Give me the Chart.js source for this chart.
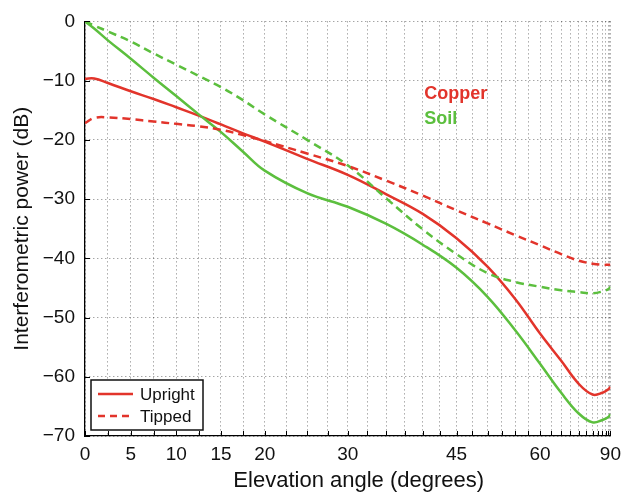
<!DOCTYPE html>
<html><head><meta charset="utf-8">
<script src="https://cdn.jsdelivr.net/npm/chart.js@4/dist/chart.umd.min.js"></script>
<style>html,body{margin:0;padding:0;background:#fff;}#wrap{width:628px;height:494px;}</style>
</head><body><div id="wrap"><canvas id="c" width="628" height="494"></canvas></div>
<script>
// ---- data (elevation angle in degrees, interferometric power in dB) ----
const angles        = [0, 1, 2.5, 5, 7.5, 10, 12.5, 15, 17.5, 20, 25, 30, 35, 40, 45, 50, 55, 60, 65, 70, 75, 80, 85, 90];
const copperUpright = [-9.7, -9.65, -10.4, -11.8, -13.1, -14.5, -15.9, -17.4, -18.9, -20.3, -23.2, -25.9, -29.2, -32.5, -36.6, -41.4, -46.9, -52.7, -57.3, -61.2, -63.0, -62.7, -62.1, -61.7];
const copperTipped  = [-17.2, -16.3, -16.2, -16.5, -16.9, -17.3, -17.7, -18.3, -19.2, -20.2, -22.3, -24.4, -26.9, -29.4, -31.9, -34.1, -36.1, -37.8, -39.3, -40.4, -40.9, -41.1, -41.1, -41.1];
const soilUpright   = [0, -1.2, -3.2, -6.3, -9.5, -12.6, -15.7, -18.7, -22.0, -25.2, -29.0, -31.3, -34.2, -37.7, -41.6, -46.5, -52.2, -57.8, -62.7, -66.2, -67.7, -67.3, -66.8, -66.3];
const soilTipped    = [0, -0.7, -1.7, -3.4, -5.4, -7.3, -9.2, -11.1, -13.3, -15.7, -20.0, -24.3, -29.9, -35.1, -39.3, -42.5, -44.0, -44.8, -45.4, -45.7, -45.9, -45.6, -45.2, -44.8];
const xTickLabels   = [0, 5, 10, 15, 20, 30, 45, 60, 90];
const xGridStep     = 2.5;
const yTicks        = [0, -10, -20, -30, -40, -50, -60, -70];
const materials     = ['Copper', 'Soil'];
const orientations  = ['Upright', 'Tipped'];
const xTitle        = 'Elevation angle (degrees)';
const yTitle        = 'Interferometric power (dB)';

const RED = '#E2342B', GREEN = '#5CBF3E';
const FONT = '"Liberation Sans", Arial, Helvetica, sans-serif';

// Axis spaced as sin(elevation)
class SineScale extends Chart.LinearScale {
  getPixelForValue(value) {
    if (value === null || value === undefined) return NaN;
    const a = Math.sin(this.min * Math.PI / 180), b = Math.sin(this.max * Math.PI / 180);
    return this.getPixelForDecimal((Math.sin(value * Math.PI / 180) - a) / (b - a));
  }
  getValueForPixel(pixel) {
    const a = Math.sin(this.min * Math.PI / 180), b = Math.sin(this.max * Math.PI / 180);
    return Math.asin(a + this.getDecimalForPixel(pixel) * (b - a)) * 180 / Math.PI;
  }
}
SineScale.id = 'sine';
SineScale.defaults = Chart.LinearScale.defaults;
Chart.register(SineScale);

const pts = arr => angles.map((a, i) => ({x: a, y: arr[i]}));
const lineDs = (label, arr, color, dashed) => ({
  label, data: pts(arr), borderColor: color, backgroundColor: color,
  borderWidth: 2.5, borderDash: dashed ? [8, 5] : [], pointRadius: 0,
  tension: 0.4, fill: false
});

const decor = {
  id: 'decor',
  afterDraw(chart) {
    const {ctx, chartArea: a, scales: {x, y}} = chart;
    ctx.save();
    // inward tick marks
    ctx.strokeStyle = '#000'; ctx.lineWidth = 1;
    ctx.beginPath();
    x.ticks.forEach(t => { const px = Math.round(x.getPixelForValue(t.value)) + 0.5; ctx.moveTo(px, a.bottom); ctx.lineTo(px, a.bottom - 5); });
    y.ticks.forEach(t => { const py = Math.round(y.getPixelForValue(t.value)) + 0.5; ctx.moveTo(a.left, py); ctx.lineTo(a.left + 5, py); });
    ctx.stroke();
    // x title
    ctx.font = '22px ' + FONT; ctx.fillStyle = '#111'; ctx.textAlign = 'center'; ctx.textBaseline = 'middle';
    ctx.fillText(xTitle, (a.left + a.right) / 2 + 11, 481);
    // legend box
    ctx.textAlign = 'left';
    const bx = a.left + 6, bw = 112, bh = 50, by = a.bottom - 6 - bh;
    ctx.fillStyle = '#fff'; ctx.fillRect(bx, by, bw, bh);
    ctx.lineWidth = 1.5; ctx.strokeStyle = '#111'; ctx.strokeRect(bx, by, bw, bh);
    ctx.font = '17px ' + FONT; ctx.textBaseline = 'middle'; ctx.fillStyle = '#111';
    orientations.forEach((lab, i) => {
      const ly = by + 14 + i * 22;
      ctx.strokeStyle = RED; ctx.lineWidth = 2.5;
      ctx.setLineDash(i === 1 ? [7, 5] : []);
      ctx.beginPath(); ctx.moveTo(bx + 7, ly); ctx.lineTo(bx + 42, ly); ctx.stroke();
      ctx.setLineDash([]);
      ctx.fillStyle = '#111'; ctx.fillText(lab, bx + 49, ly + 1);
    });
    // material labels
    ctx.font = 'bold 18px ' + FONT;
    ctx.fillStyle = RED;   ctx.fillText(materials[0], x.getPixelForValue(40.2), y.getPixelForValue(-12.3));
    ctx.fillStyle = GREEN; ctx.fillText(materials[1], x.getPixelForValue(40.2), y.getPixelForValue(-16.5));
    ctx.restore();
  }
};

new Chart(document.getElementById('c'), {
  type: 'line',
  data: {
    datasets: [
      lineDs('Copper Tipped', copperTipped, RED, true),
      lineDs('Soil Tipped', soilTipped, GREEN, true),
      lineDs('Soil Upright', soilUpright, GREEN, false),
      lineDs('Copper Upright', copperUpright, RED, false)
    ]
  },
  options: {
    responsive: false, animation: false,
    layout: {padding: {top: 16, right: 11, left: 0, bottom: 0}},
    plugins: {legend: {display: false}, tooltip: {enabled: false}},
    scales: {
      x: {
        type: 'sine', min: 0, max: 90,
        afterBuildTicks: s => { const t = []; for (let d = 0; d <= 90 + 1e-9; d += xGridStep) t.push({value: d}); s.ticks = t; },
        afterFit: s => { s.height = 58; },
        ticks: {
          autoSkip: false, maxRotation: 0, minRotation: 0, padding: 7,
          color: '#111', font: {family: FONT, size: 19},
          callback: v => xTickLabels.includes(v) ? String(v) : ''
        },
        grid: {drawTicks: false, color: 'rgba(0,0,0,0.5)', lineWidth: 1},
        border: {display: true, color: '#000', width: 1.3, dash: [1, 3]},
        title: {display: false}
      },
      y: {
        type: 'linear', min: -70, max: 0,
        afterBuildTicks: s => { s.ticks = yTicks.map(v => ({value: v})); },
        afterFit: s => { s.width = 85; },
        ticks: {
          padding: 10, color: '#111', font: {family: FONT, size: 19},
          callback: v => String(v).replace('-', '\u2212')
        },
        grid: {drawTicks: false, color: 'rgba(0,0,0,0.5)', lineWidth: 1},
        border: {display: true, color: '#000', width: 1.3, dash: [1, 3]},
        title: {display: true, text: yTitle, color: '#111',
                font: {family: FONT, size: 21}, padding: {top: 10, bottom: 0}}
      }
    }
  },
  plugins: [decor]
});
</script></body></html>
